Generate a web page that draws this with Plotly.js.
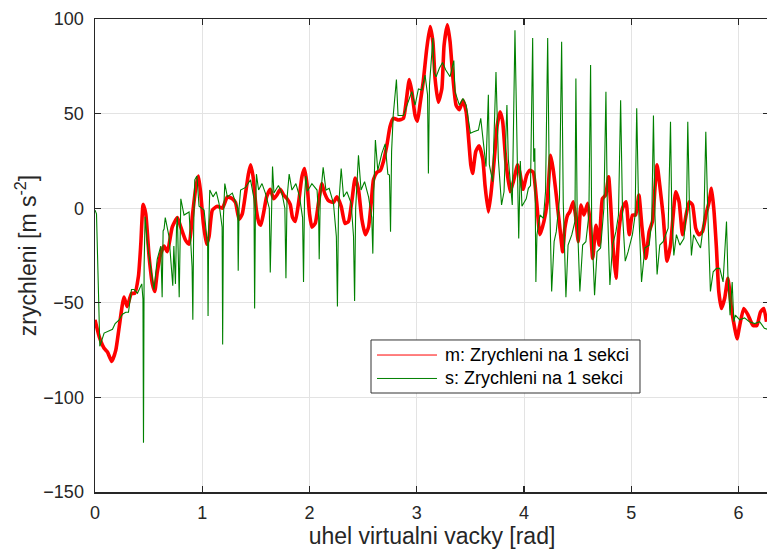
<!DOCTYPE html>
<html>
<head>
<meta charset="utf-8">
<script src="https://cdn.plot.ly/plotly-3.0.1.min.js"></script>
<style>
html, body { margin: 0; padding: 0; overflow: hidden; background: #fff; }
#chart { width: 770px; height: 553px; }
</style>
</head>
<body>
<div id="chart"></div>
<script>
// ---- data ----
const seriesNames = ["m: Zrychleni na 1 sekci", "s: Zrychleni na 1 sekci"];
const seriesColors = ["#ff0000", "#008000"];

const mX = [0,0.04,0.085,0.116,0.156,0.194,0.225,0.27,0.30,0.34,0.37,0.405,0.427,0.449,0.473,0.505,0.535,0.557,0.58,0.613,0.644,0.675,0.72,0.768,0.80,0.845,0.877,0.908,0.94,0.964,0.985,1.01,1.04,1.063,1.094,1.14,1.187,1.234,1.28,1.31,1.343,1.373,1.404,1.43,1.45,1.473,1.504,1.53,1.545,1.57,1.60,1.634,1.665,1.696,1.727,1.758,1.79,1.82,1.842,1.867,1.898,1.93,1.953,1.976,2.0,2.022,2.053,2.084,2.115,2.14,2.177,2.223,2.255,2.295,2.33,2.363,2.395,2.425,2.456,2.488,2.52,2.55,2.575,2.596,2.628,2.66,2.69,2.72,2.75,2.78,2.83,2.875,2.90,2.93,2.953,2.984,3.006,3.03,3.06,3.093,3.124,3.15,3.17,3.20,3.233,3.254,3.285,3.31,3.335,3.366,3.397,3.43,3.46,3.48,3.503,3.52,3.55,3.58,3.615,3.636,3.667,3.69,3.72,3.75,3.776,3.80,3.83,3.87,3.90,3.94,3.96,3.99,4.025,4.055,4.085,4.117,4.148,4.185,4.216,4.248,4.27,4.30,4.334,4.36,4.38,4.406,4.427,4.458,4.483,4.505,4.53,4.558,4.593,4.614,4.64,4.67,4.70,4.73,4.76,4.788,4.806,4.83,4.856,4.886,4.918,4.95,4.98,5.01,5.04,5.07,5.10,5.135,5.166,5.197,5.22,5.24,5.265,5.296,5.333,5.365,5.39,5.414,5.445,5.477,5.51,5.54,5.57,5.60,5.63,5.663,5.694,5.725,5.747,5.768,5.793,5.815,5.84,5.87,5.90,5.933,5.964,5.985,6.01,6.048,6.088,6.134,6.17,6.203,6.234,6.26];
const mY = [-59,-68,-74,-76,-81,-75,-63,-47,-52,-45,-45,-36,-19,2,-3,-26,-40,-44,-34,-24,-20,-23,-10,-5,-10,-17,-19,-4,11,17,8,-8,-19,-15,-1,1,0,6,5,3,-6,-3,8,18,23,17,-1,-8,-9,-3,6,10,5,7,10,7,5,2,-5,-7,3,17,21,13,-3,-10,-8,3,13,8,4,3,6,1,-8,-7,4,16,10,-6,-14,-10,3,15,19,20,25,33,43,47.5,46.6,47.5,56,68,62,49,46,55,67,84.5,96,88,68.6,56,63,86,97,88,70,54.5,52,57,51,38.7,23,18.4,30,33,26,12,-2,7,24.6,44,51,46,24.6,8.7,14,23,19,10,17.5,20,19,3.4,-14,-7,3.4,28,21,7,-10.6,-23,-10.6,-3.6,-1.8,3.4,-5.3,-17.7,1.7,-3.6,2.6,-7,-26.5,-9,-19.5,5,7,16.6,3.4,-21,-37,-10.6,0,3.4,-14,-3.6,-3.6,7,-10.6,-26.5,-12.4,-7,10.5,23,12,-3.6,-28,-19.5,-3.6,8.7,3.4,-14,-3.6,3.4,1.7,-10.6,-14,-12.4,-3.6,3.4,10.5,0,-21,-44,-53,-47.6,-37,-53,-63.5,-69,-62,-53,-56.5,-62,-62,-55,-53,-60];

const sX = [0,0.014,0.045,0.085,0.163,0.188,0.225,0.256,0.287,0.312,0.34,0.365,0.396,0.436,0.447,0.452,0.458,0.467,0.49,0.52,0.55,0.58,0.613,0.626,0.635,0.644,0.655,0.69,0.725,0.735,0.75,0.76,0.768,0.785,0.795,0.80,0.83,0.877,0.905,0.912,0.92,0.93,0.95,0.97,1.017,1.05,1.054,1.06,1.07,1.10,1.13,1.156,1.185,1.19,1.197,1.21,1.234,1.28,1.33,1.335,1.343,1.357,1.404,1.45,1.482,1.488,1.495,1.505,1.525,1.557,1.588,1.625,1.634,1.645,1.655,1.668,1.71,1.743,1.77,1.78,1.79,1.81,1.836,1.873,1.907,1.935,1.944,1.953,1.965,1.98,2.022,2.07,2.085,2.09,2.10,2.127,2.153,2.183,2.223,2.25,2.26,2.27,2.295,2.317,2.348,2.388,2.41,2.42,2.43,2.456,2.48,2.513,2.55,2.58,2.59,2.60,2.614,2.636,2.674,2.705,2.73,2.745,2.755,2.765,2.78,2.81,2.825,2.875,2.92,2.953,2.984,3.015,3.046,3.077,3.10,3.108,3.118,3.13,3.15,3.16,3.18,3.21,3.24,3.27,3.31,3.345,3.356,3.397,3.43,3.46,3.50,3.53,3.574,3.596,3.62,3.645,3.667,3.676,3.707,3.738,3.76,3.79,3.813,3.84,3.853,3.89,3.915,3.93,3.95,3.965,3.98,4.02,4.04,4.06,4.08,4.09,4.10,4.11,4.12,4.148,4.18,4.20,4.22,4.235,4.257,4.28,4.30,4.33,4.35,4.365,4.39,4.41,4.445,4.474,4.483,4.495,4.52,4.546,4.576,4.604,4.62,4.63,4.657,4.68,4.713,4.744,4.763,4.775,4.80,4.825,4.856,4.88,4.90,4.918,4.943,4.97,5.01,5.035,5.05,5.067,5.095,5.126,5.166,5.19,5.206,5.22,5.24,5.265,5.296,5.343,5.365,5.377,5.396,5.42,5.452,5.49,5.514,5.526,5.54,5.56,5.58,5.613,5.645,5.676,5.694,5.71,5.737,5.763,5.793,5.824,5.855,5.887,5.90,5.92,5.94,5.955,5.97,6.01,6.055,6.10,6.15,6.196,6.24,6.27];
const sY = [-1,-3,-73,-66,-64,-61,-59,-56,-55,-55,-43,-43,-45,-40,-48,-124,-30,-4.5,-20,-31,-43,-27,-20,-47,-12,-11,-5,-15,-41,-20,-40,-10,-4.5,-47,-2,5,-3.6,-2,-31,-59,-10,15,17,1,-1,-20,-57,-10,9.6,6,8.7,2.6,-10,-72,-5,13,6,8,0,-33,0,9.6,11,15,5,-53,-5,18,9.6,13,8,0,-34,5,22,8,12,8,0,-37,5,18,9.6,13,6,-5,-39,5,17,9,13,9.6,-5,-27,5,21.6,9.6,10.5,2.6,-15,-52,0,21,6,8.7,2.6,-15,-49,0,28,9.6,14,6,-5,-24,10,36,20,29,34,18,17.5,-12.4,30,49,68,49,49,56,61.6,54.5,63,62.5,70.4,60,18.4,65,77,90,72,69.5,74,77,73,69.5,78,61.6,54.5,58,54.5,39.6,40.4,41.3,47.5,35,22,60,23,14,72,26,1.7,8.7,54.5,26,1.7,94,40,-16,25,1,5,10.5,12,90,24.6,31.7,-39,-14,-3.6,-5.3,8.7,90,14,-44,-17.7,-12.4,5,88,3.4,-47,-19.5,-14,-7,68.6,-3.6,-44,-19.5,-17.7,-3.6,75.7,-7,-46,-23,-21,0,61.6,5,-40.6,-19.5,-12.4,-3.6,57,-3.6,-28,-23,-14,-3.6,52.8,1.7,-39,-21,-19.5,-7,49,-3.6,-35,-19.5,-17.7,-10.6,45.7,-3.6,-25,-14,-19.5,-16,-1.8,45.7,5,-25,-14,-17.7,-21,-7,40.4,3.4,-44,-33.6,-31.8,-31.8,-39,-7,-35,-56.5,-39,-60,-56.5,-59,-58,-60,-61,-60,-63.5,-64];

const xTickVals = [0,1,2,3,4,5,6];
const yTickVals = [-150,-100,-50,0,50,100];

// ---- chart ----
const axisColor = '#262626';
const fontFam = 'Liberation Sans, Arial, Helvetica, sans-serif';

const traces = [
  { x: mX, y: mY, type: 'scatter', mode: 'lines', name: seriesNames[0],
    line: { color: seriesColors[0], width: 3.6, shape: 'spline', smoothing: 0.5 } },
  { x: sX, y: sY, type: 'scatter', mode: 'lines', name: seriesNames[1],
    line: { color: seriesColors[1], width: 1.1 } }
];

const axisCommon = {
  showline: true, linecolor: axisColor, linewidth: 1.5, mirror: 'ticks',
  ticks: 'inside', ticklen: 6, tickwidth: 1.3, tickcolor: axisColor,
  showgrid: true, gridcolor: '#e3e3e3', gridwidth: 1, zeroline: false,
  tickfont: { family: fontFam, size: 18, color: axisColor }
};

// legend box drawn as paper-positioned shapes + text (thin line samples like the reference)
const legendBox = { x0: 0.4095, x1: 0.8086, y0: 0.2093, y1: 0.3214 };
const legendRowsY = [0.2896, 0.2400];
const legendLineX = [0.4184, 0.5074];
const legendTextX = 0.5163;

const shapes = [
  { type: 'rect', xref: 'paper', yref: 'paper', x0: legendBox.x0, x1: legendBox.x1, y0: legendBox.y0, y1: legendBox.y1,
    line: { color: '#333333', width: 1 }, fillcolor: '#ffffff', layer: 'above' }
];
const annotations = [];
seriesNames.forEach((nm, i) => {
  shapes.push({ type: 'line', xref: 'paper', yref: 'paper', x0: legendLineX[0], x1: legendLineX[1],
    y0: legendRowsY[i], y1: legendRowsY[i], line: { color: seriesColors[i], width: 1 }, layer: 'above' });
  annotations.push({ xref: 'paper', yref: 'paper', x: legendTextX, y: legendRowsY[i], xanchor: 'left', yanchor: 'middle',
    text: nm, showarrow: false, font: { family: fontFam, size: 18, color: '#000000' } });
});

const layout = {
  width: 770, height: 553,
  margin: { l: 95, r: 1, t: 19, b: 61 },
  paper_bgcolor: '#ffffff', plot_bgcolor: '#ffffff',
  showlegend: false,
  shapes: shapes,
  annotations: annotations,
  xaxis: Object.assign({}, axisCommon, {
    range: [0, 2 * Math.PI], tickvals: xTickVals,
    ticklabelstandoff: 4,
    title: { text: 'uhel virtualni vacky [rad]', font: { family: fontFam, size: 23, color: axisColor }, standoff: 4 }
  }),
  yaxis: Object.assign({}, axisCommon, {
    range: [-150, 100], tickvals: yTickVals,
    ticklabelstandoff: 6,
    title: { text: 'zrychleni [m s<sup>-2</sup>]', font: { family: fontFam, size: 23, color: axisColor }, standoff: 0 }
  })
};

Plotly.newPlot('chart', traces, layout, { staticPlot: true, displayModeBar: false });
</script>
</body>
</html>
